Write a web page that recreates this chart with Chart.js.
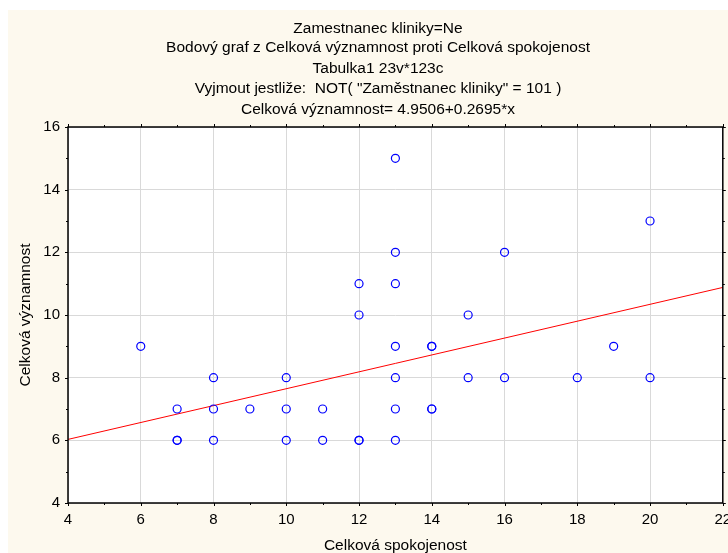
<!DOCTYPE html>
<html lang="cs">
<head>
<meta charset="utf-8">
<title>Bodový graf</title>
<script src="https://cdn.jsdelivr.net/npm/chart.js@4.4.1/dist/chart.umd.min.js"></script>
<style>
  html, body { margin: 0; padding: 0; background: #ffffff; }
  canvas { display: block; }
</style>
</head>
<body>
<canvas id="chart" width="728" height="553"></canvas>
<script>
const spokojenost = [6, 7, 7, 7, 8, 8, 8, 9, 10, 10, 10, 11, 11,
  12, 12, 12, 12, 13, 13, 13, 13, 13, 13, 13, 14, 14, 14, 14,
  15, 15, 16, 16, 18, 19, 20, 20];
const vyznamnost = [9, 7, 6, 6, 8, 7, 6, 7, 8, 7, 6, 7, 6,
  11, 10, 6, 6, 15, 12, 11, 9, 8, 7, 6, 9, 9, 7, 7,
  10, 8, 12, 8, 8, 9, 13, 8];

// Fitted line, end points read at the plot edges
const fitX = [4, 22];
const fitY = [6.03, 10.88];

const xTicks = [4, 6, 8, 10, 12, 14, 16, 18, 20, 22];
const yTicks = [4, 6, 8, 10, 12, 14, 16];

const titleLines = [
  'Zamestnanec kliniky=Ne',
  'Bodový graf z Celková významnost proti Celková spokojenost',
  'Tabulka1 23v*123c',
  'Vyjmout jestliže:  NOT( "Zaměstnanec kliniky" = 101 )',
  'Celková významnost= 4.9506+0.2695*x'
];
const xTitle = 'Celková spokojenost';
const yTitle = 'Celková významnost';

const textFont = '15.5px "Liberation Sans", Arial, sans-serif';

/**
 * Background, frame, tick marks and titles
 */
const framePlugin = {
  id: 'frame',
  beforeDraw(chart) {
    const { ctx, chartArea: a } = chart;
    ctx.save();
    ctx.fillStyle = '#ffffff';
    ctx.fillRect(0, 0, chart.width, chart.height);
    ctx.fillStyle = '#fdf9ee';
    ctx.fillRect(8, 10, chart.width - 8, chart.height - 10);
    ctx.fillStyle = '#ffffff';
    ctx.fillRect(a.left, a.top, a.right - a.left, a.bottom - a.top);
    ctx.restore();
  },
  afterDraw(chart) {
    const { ctx, chartArea: a } = chart;
    const xs = chart.scales.x;
    const ys = chart.scales.y;
    ctx.save();
    ctx.strokeStyle = '#000000';
    ctx.lineWidth = 1;

    // tick marks outside the frame, majors at labels, minors between
    ctx.beginPath();
    for (let v = xs.min; v <= xs.max; v++) {
      const px = Math.round(xs.getPixelForValue(v)) + 0.5;
      const len = xTicks.includes(v) ? 3 : 2;
      ctx.moveTo(px, a.bottom); ctx.lineTo(px, a.bottom + len);
      ctx.moveTo(px, a.top); ctx.lineTo(px, a.top - len);
    }
    for (let v = ys.min; v <= ys.max; v++) {
      const py = Math.round(ys.getPixelForValue(v)) + 0.5;
      const len = yTicks.includes(v) ? 3 : 2;
      ctx.moveTo(a.left, py); ctx.lineTo(a.left - len, py);
      ctx.moveTo(a.right, py); ctx.lineTo(a.right + len, py);
    }
    ctx.stroke();

    ctx.lineWidth = 1.5;
    ctx.strokeRect(a.left, a.top, a.right - a.left, a.bottom - a.top);

    // titles
    ctx.fillStyle = '#000000';
    ctx.font = textFont;
    ctx.textAlign = 'center';
    ctx.textBaseline = 'alphabetic';
    const baselines = [33, 52, 73, 93, 114];
    titleLines.forEach((line, i) => ctx.fillText(line, 378, baselines[i]));

    ctx.fillText(xTitle, (a.left + a.right) / 2, 550);

    ctx.translate(30, (a.top + a.bottom) / 2);
    ctx.rotate(-Math.PI / 2);
    ctx.fillText(yTitle, 0, 0);
    ctx.restore();
  }
};

const points = spokojenost.map((x, i) => ({ x: x, y: vyznamnost[i] }));
const fitLine = fitX.map((x, i) => ({ x: x, y: fitY[i] }));

const tickFont = { family: '"Liberation Sans", Arial, sans-serif', size: 15 };

new Chart(document.getElementById('chart'), {
  type: 'scatter',
  data: {
    datasets: [
      {
        data: points,
        pointStyle: 'circle',
        pointRadius: 4,
        pointHoverRadius: 4,
        pointBorderWidth: 1.2,
        borderColor: '#0000ff',
        backgroundColor: 'rgba(0, 0, 0, 0)'
      },
      {
        data: fitLine,
        showLine: true,
        pointRadius: 0,
        borderColor: '#ff0000',
        borderWidth: 1
      }
    ]
  },
  options: {
    responsive: false,
    animation: false,
    devicePixelRatio: 1,
    layout: { padding: { left: 0, right: 2, top: 127, bottom: 0 } },
    plugins: {
      legend: { display: false },
      tooltip: { enabled: false },
      title: { display: false }
    },
    scales: {
      x: {
        type: 'linear',
        min: 4,
        max: 22,
        afterBuildTicks: (scale) => { scale.ticks = xTicks.map(v => ({ value: v })); },
        afterFit: (scale) => { scale.height = 50; scale.paddingLeft = 0; scale.paddingRight = 0; },
        ticks: { font: tickFont, color: '#000000', padding: 8, maxRotation: 0, autoSkip: false },
        grid: { color: '#d9d9d9', lineWidth: 1, drawTicks: false },
        border: { display: false }
      },
      y: {
        type: 'linear',
        min: 4,
        max: 16,
        afterBuildTicks: (scale) => { scale.ticks = yTicks.map(v => ({ value: v })); },
        afterFit: (scale) => { scale.width = 68; scale.paddingTop = 0; scale.paddingBottom = 0; },
        ticks: { font: tickFont, color: '#000000', padding: 8 },
        grid: { color: '#d9d9d9', lineWidth: 1, drawTicks: false },
        border: { display: false }
      }
    }
  },
  plugins: [framePlugin]
});
</script>
</body>
</html>
